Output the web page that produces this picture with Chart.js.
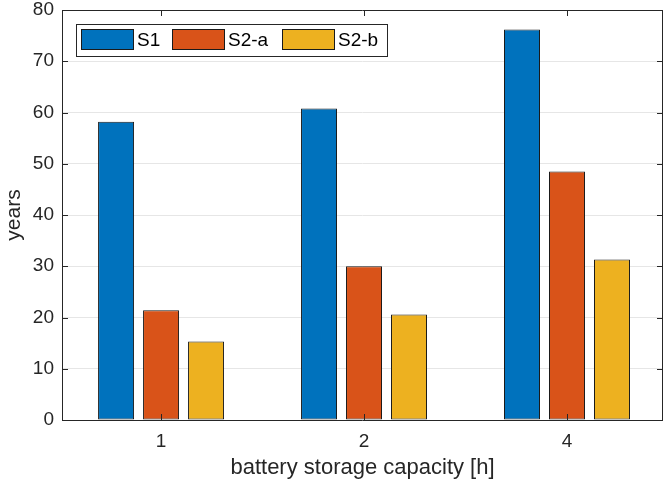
<!DOCTYPE html>
<html>
<head>
<meta charset="utf-8">
<script src="https://cdn.jsdelivr.net/npm/chart.js@4.4.1/dist/chart.umd.min.js"></script>
<style>
  html, body { margin: 0; padding: 0; background: #fff; }
  #wrap { width: 664px; height: 486px; }
</style>
</head>
<body>
<div id="wrap"><canvas id="bars"></canvas></div>
<script>
const categories = ['1', '2', '4'];
const seriesNames = ['S1', 'S2-a', 'S2-b'];
const s1 = [58.2, 60.8, 76.2];
const s2a = [21.4, 30.0, 48.5];
const s2b = [15.3, 20.6, 31.3];
const yTicks = [0, 10, 20, 30, 40, 50, 60, 70, 80];

const colors = ['#0072BD', '#D95319', '#EDB120'];
const axisColor = '#262626';
const fontFamily = '"Liberation Sans", Arial, Helvetica, sans-serif';

// MATLAB-like frame, inside ticks and boxed legend
const matlabFrame = {
    id: 'matlabFrame',
    afterDraw(chart) {
        const ctx = chart.ctx;
        const a = chart.chartArea;
        const xs = chart.scales.x;
        const ys = chart.scales.y;
        const tl = 6;
        ctx.save();
        ctx.strokeStyle = axisColor;
        ctx.lineWidth = 1;
        ctx.beginPath();
        ctx.rect(Math.round(a.left) + 0.5, Math.round(a.top) + 0.5,
            Math.round(a.right - a.left) - 1, Math.round(a.bottom - a.top));
        ctx.stroke();

        ctx.beginPath();
        yTicks.forEach(v => {
            const y = Math.round(ys.getPixelForValue(v)) + 0.5;
            ctx.moveTo(a.left, y); ctx.lineTo(a.left + tl, y);
            ctx.moveTo(a.right, y); ctx.lineTo(a.right - tl, y);
        });
        categories.forEach((c, i) => {
            const x = Math.round(xs.getPixelForValue(i)) + 0.5;
            ctx.moveTo(x, a.bottom); ctx.lineTo(x, a.bottom - tl);
            ctx.moveTo(x, a.top); ctx.lineTo(x, a.top + tl);
        });
        ctx.stroke();

        // legend
        const lx = 76.5, ly = 24.5, lw = 311, lh = 32;
        ctx.fillStyle = '#fff';
        ctx.fillRect(lx, ly, lw, lh);
        ctx.strokeRect(lx, ly, lw, lh);
        const itemX = [81, 172, 282];
        ctx.font = '19px ' + fontFamily;
        ctx.textBaseline = 'middle';
        chart.data.datasets.forEach((ds, i) => {
            ctx.fillStyle = ds.backgroundColor;
            ctx.fillRect(itemX[i] + 0.5, 29.5, 52, 20);
            ctx.strokeStyle = '#1a1a1a';
            ctx.strokeRect(itemX[i] + 0.5, 29.5, 52, 20);
            ctx.fillStyle = '#000';
            ctx.fillText(ds.label, itemX[i] + 56, 41);
        });
        ctx.restore();
    }
};

const config = {
    type: 'bar',
    data: {
        datasets: [s1, s2a, s2b].map((vals, i) => ({
            label: seriesNames[i],
            data: vals.map((v, j) => ({ x: j, y: v })),
            backgroundColor: colors[i],
            borderColor: '#1a1a1a',
            borderWidth: 1,
            borderSkipped: false,
            categoryPercentage: 0.665,
            barPercentage: 0.8
        }))
    },
    options: {
        responsive: true,
        maintainAspectRatio: false,
        animation: false,
        devicePixelRatio: 1,
        layout: { padding: { top: 10, right: 1, left: 0, bottom: 0 } },
        plugins: {
            legend: { display: false },
            tooltip: { enabled: false }
        },
        scales: {
            x: {
                type: 'linear',
                min: -0.488,
                max: 2.473,
                offset: false,
                afterBuildTicks(scale) {
                    scale.ticks = categories.map((c, i) => ({ value: i }));
                },
                grid: { display: false, drawTicks: false },
                border: { display: false },
                ticks: {
                    color: axisColor,
                    font: { family: fontFamily, size: 19 },
                    padding: 10,
                    maxRotation: 0,
                    callback: (value) => categories[value]
                },
                title: {
                    display: true,
                    text: 'battery storage capacity [h]',
                    color: axisColor,
                    font: { family: fontFamily, size: 22 },
                    padding: { top: 2, bottom: 5 }
                },
                afterFit(scale) {
                    scale.height = 66;
                    scale.paddingLeft = 0;
                    scale.paddingRight = 0;
                }
            },
            y: {
                min: 0,
                max: 80,
                afterBuildTicks(scale) {
                    scale.ticks = yTicks.map(v => ({ value: v }));
                },
                grid: { color: '#e6e6e6', drawTicks: false },
                border: { display: false },
                ticks: {
                    color: axisColor,
                    font: { family: fontFamily, size: 19 },
                    padding: 8
                },
                title: {
                    display: true,
                    text: 'years',
                    color: axisColor,
                    font: { family: fontFamily, size: 21 },
                    padding: { top: 2, bottom: 0 }
                },
                afterFit(scale) {
                    scale.width = 62;
                    scale.paddingTop = 0;
                    scale.paddingBottom = 0;
                }
            }
        }
    },
    plugins: [matlabFrame]
};

new Chart(document.getElementById('bars'), config);
</script>
</body>
</html>
